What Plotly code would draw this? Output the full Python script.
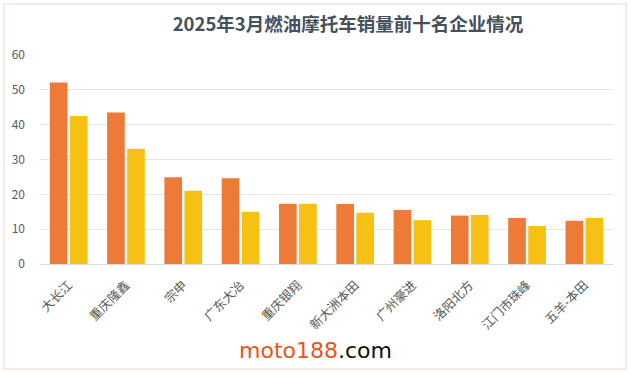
import plotly.graph_objects as go

companies = ["大长江", "重庆隆鑫", "宗申", "广东大冶", "重庆银翔", "新大洲本田", "广州豪进", "洛阳北方", "江门市珠峰", "五羊-本田"]
series_a_name = "2025年3月"
series_a = [52.1, 43.5, 24.9, 24.6, 17.3, 17.2, 15.5, 13.9, 13.2, 12.4]
series_b_name = "2024年3月"
series_b = [42.5, 33.1, 21.0, 15.0, 17.3, 14.7, 12.6, 14.1, 10.9, 13.2]
y_ticks = [0, 10, 20, 30, 40, 50, 60]

FONT = "Noto Sans CJK SC, Open Sans, sans-serif"

fig = go.Figure()
fig.add_trace(go.Bar(x=companies, y=series_a, name=series_a_name,
                     marker=dict(color="#ED7A37", line=dict(width=0))))
fig.add_trace(go.Bar(x=companies, y=series_b, name=series_b_name,
                     marker=dict(color="#F7C113", line=dict(width=0))))

W, H = 631, 373
ml, mr, mt, mb = 40, 18, 55, 109
fig.update_layout(
    width=W, height=H,
    margin=dict(l=ml, r=mr, t=mt, b=mb),
    paper_bgcolor="white", plot_bgcolor="white",
    barmode="group", bargap=0.3, bargroupgap=0.12,
    showlegend=False,
    font=dict(family=FONT, color="#595959", size=12),
    title=dict(text="<b>2025年3月燃油摩托车销量前十名企业情况</b>",
               x=348 / W, xanchor="center", y=1 - 25 / H, yanchor="middle",
               font=dict(size=18.5, color="#44505C", family=FONT)),
    xaxis=dict(tickangle=-45, tickfont=dict(size=12.5, color="#595959"),
               showline=True, linecolor="#D9D9D9", ticks="", showgrid=False,
               ticklabelstandoff=8),
    yaxis=dict(range=[0, 60], tickvals=y_ticks, showgrid=True, gridcolor="#E6E6E6",
               zeroline=False, tickfont=dict(size=12, color="#595959"), ticks="",
               ticklabelstandoff=14),
)

# outer frame
fig.add_shape(type="rect", xref="paper", yref="paper",
              x0=-(ml - 4) / (W - ml - mr), x1=1 + (mr - 5) / (W - ml - mr),
              y0=-(mb - 4) / (H - mt - mb), y1=1 + (mt - 4) / (H - mt - mb),
              line=dict(color="#F2E4E0", width=1.5), layer="below")

# watermark
fig.add_annotation(xref="paper", yref="paper",
                   x=(315 - ml) / (W - ml - mr), y=-(350 - (H - mb)) / (H - mt - mb),
                   xanchor="center", yanchor="middle", showarrow=False,
                   text="<span style='color:#E9541B'>moto188</span><span style='color:#111111'>.com</span>",
                   font=dict(size=22, family="DejaVu Sans, sans-serif"))

fig.write_html("out.html")
